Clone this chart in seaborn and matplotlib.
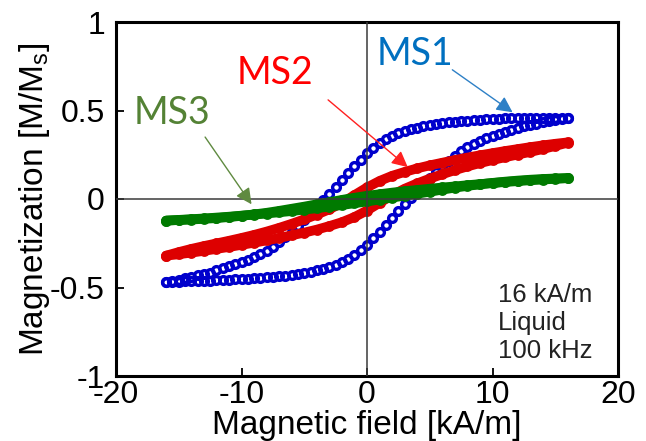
import numpy as np
import pandas as pd
import matplotlib
matplotlib.use("Agg")
import matplotlib.pyplot as plt
import seaborn as sns

# ---------------------------------------------------------------------------
# Hysteresis loops (applied field 16 kA/m, liquid, 100 kHz)
# ---------------------------------------------------------------------------
# fine field grid for MS1 (kA/m)
field_fine = [-16.0, -15.5, -15.0, -14.5, -14.0, -13.5, -13.0, -12.5, -12.0, -11.5,
              -11.0, -10.5, -10.0, -9.5, -9.0, -8.5, -8.0, -7.5, -7.0, -6.5,
              -6.0, -5.5, -5.0, -4.5, -4.0, -3.5, -3.0, -2.5, -2.0, -1.5,
              -1.0, -0.5, 0.0, 0.5, 1.0, 1.5, 2.0, 2.5, 3.0, 3.5,
              4.0, 4.5, 5.0, 5.5, 6.0, 6.5, 7.0, 7.5, 8.0, 8.5,
              9.0, 9.5, 10.0, 10.5, 11.0, 11.5, 12.0, 12.5, 13.0, 13.5,
              14.0, 14.5, 15.0, 15.5, 16.0]

# MS1, rising-field branch
ms1_up = [-0.470, -0.468, -0.467, -0.466, -0.464, -0.463, -0.462, -0.461, -0.460, -0.458,
          -0.456, -0.454, -0.452, -0.450, -0.448, -0.446, -0.443, -0.440, -0.437, -0.433,
          -0.429, -0.424, -0.418, -0.411, -0.403, -0.394, -0.384, -0.372, -0.358, -0.340,
          -0.318, -0.290, -0.258, -0.222, -0.185, -0.147, -0.108, -0.070, -0.031, 0.008,
          0.046, 0.083, 0.118, 0.152, 0.187, 0.217, 0.244, 0.269, 0.291, 0.311,
          0.328, 0.343, 0.357, 0.370, 0.381, 0.392, 0.401, 0.410, 0.418, 0.425,
          0.435, 0.441, 0.447, 0.452, 0.457]

# MS1, falling-field branch (same field grid)
ms1_down = [-0.468, -0.462, -0.455, -0.448, -0.440, -0.432, -0.425, -0.418, -0.401, -0.392,
            -0.381, -0.370, -0.357, -0.343, -0.328, -0.311, -0.291, -0.269, -0.244, -0.217,
            -0.187, -0.152, -0.118, -0.083, -0.046, -0.008, 0.031, 0.070, 0.108, 0.147,
            0.185, 0.222, 0.258, 0.290, 0.318, 0.340, 0.358, 0.372, 0.384, 0.394,
            0.403, 0.411, 0.418, 0.424, 0.429, 0.433, 0.437, 0.440, 0.443, 0.446,
            0.448, 0.450, 0.452, 0.454, 0.456, 0.457, 0.458, 0.459, 0.459, 0.459,
            0.459, 0.459, 0.459, 0.458, 0.457]

# coarse field grid for MS2 / MS3 (kA/m)
field_coarse = [-16, -15, -14, -13, -12, -11, -10, -9, -8, -7, -6, -5, -4, -3, -2, -1, 0,
                1, 2, 3, 4, 5, 6, 7, 8, 9, 10, 11, 12, 13, 14, 15, 16]

ms2_up = [-0.320, -0.312, -0.303, -0.293, -0.282, -0.271, -0.259, -0.247, -0.234, -0.220,
          -0.205, -0.190, -0.173, -0.153, -0.131, -0.102, -0.065, -0.022, 0.022, 0.058,
          0.088, 0.115, 0.140, 0.163, 0.184, 0.203, 0.220, 0.236, 0.251, 0.266,
          0.282, 0.300, 0.318]
ms2_down = [-0.320, -0.300, -0.282, -0.266, -0.251, -0.236, -0.220, -0.203, -0.184, -0.163,
            -0.140, -0.115, -0.088, -0.058, -0.022, 0.022, 0.065, 0.102, 0.131, 0.153,
            0.173, 0.190, 0.205, 0.220, 0.234, 0.247, 0.259, 0.271, 0.282, 0.293,
            0.303, 0.312, 0.320]

ms3_up = [-0.122, -0.118, -0.114, -0.110, -0.105, -0.100, -0.094, -0.088, -0.082, -0.075,
          -0.068, -0.060, -0.052, -0.043, -0.034, -0.024, -0.014, -0.003, 0.008, 0.019,
          0.030, 0.041, 0.053, 0.064, 0.074, 0.083, 0.091, 0.098, 0.104, 0.109,
          0.113, 0.116, 0.118]
ms3_down = [-0.122, -0.119, -0.116, -0.112, -0.108, -0.102, -0.095, -0.087, -0.078, -0.067,
            -0.055, -0.043, -0.030, -0.018, -0.005, 0.007, 0.018, 0.027, 0.036, 0.044,
            0.051, 0.058, 0.065, 0.071, 0.078, 0.084, 0.090, 0.096, 0.101, 0.106,
            0.110, 0.114, 0.118]

sample_names = ["MS1", "MS2", "MS3"]
marker_colors = {"MS1": "#0000cc", "MS2": "#dd0000", "MS3": "#007a00"}
label_colors = {"MS1": "#0070c0", "MS2": "#ff0000", "MS3": "#548235"}
arrow_colors = {"MS1": "#2e80c6", "MS2": "#ff2020", "MS3": "#5f8a40"}

x_ticks = [-20, -10, 0, 10, 20]
y_ticks = [-1, -0.5, 0, 0.5, 1]
y_ticklabels = ["-1", "-0.5", "0", "0.5", "1"]

# long-form table of all loops
rows = []
for name, field, up, down in [("MS1", field_fine, ms1_up, ms1_down),
                              ("MS2", field_coarse, ms2_up, ms2_down),
                              ("MS3", field_coarse, ms3_up, ms3_down)]:
    for h, m in zip(field, up):
        rows.append((name, "up", h, m))
    for h, m in zip(field, down):
        rows.append((name, "down", h, m))
loops = pd.DataFrame(rows, columns=["sample", "branch", "field", "magnetization"])

# ---------------------------------------------------------------------------
sns.set_theme(style="white")
plt.rcParams["font.family"] = ["Liberation Sans", "DejaVu Sans"]
plt.rcParams["mathtext.fontset"] = "custom"
plt.rcParams["mathtext.rm"] = "Liberation Sans"

fig = plt.figure(figsize=(6.46, 4.41), dpi=100)
ax = fig.add_axes([116 / 646, 1 - 376 / 441, 502 / 646, 354 / 441])

for name in ["MS1", "MS2", "MS3"]:
    c = marker_colors[name]
    for branch in ["up", "down"]:
        sub = loops[(loops["sample"] == name) & (loops["branch"] == branch)]
        if name == "MS1":
            # open circles only
            sns.lineplot(data=sub, x="field", y="magnetization", ax=ax, sort=False,
                         estimator=None, color=c, lw=0, marker="o", ms=5.6,
                         mfc="none", mec=c, mew=2.4, zorder=2)
        else:
            # densely packed circles read as a solid band
            sns.lineplot(data=sub, x="field", y="magnetization", ax=ax, sort=False,
                         estimator=None, color=c, lw=7.0, solid_capstyle="round",
                         marker="o", ms=6.0, mfc="none", mec=c, mew=1.8, zorder=2)

# zero lines
ax.axhline(0, color="#3a3a3a", lw=1.1, zorder=4)
ax.axvline(0, color="#3a3a3a", lw=1.1, zorder=4)

ax.set_xlim(-20, 20)
ax.set_ylim(-1, 1)
ax.set_xticks(x_ticks)
ax.set_xticklabels([str(t) for t in x_ticks])
ax.set_yticks(y_ticks)
ax.set_yticklabels(y_ticklabels)
ax.tick_params(axis="both", direction="in", length=6, width=1.3, colors="black",
               labelsize=23, left=True, bottom=True, top=False, right=False)
ax.tick_params(axis="y", pad=8)
ax.tick_params(axis="x", pad=3)
for side in ["left", "right", "top", "bottom"]:
    ax.spines[side].set_visible(True)
    ax.spines[side].set_color("black")
    ax.spines[side].set_linewidth(2.2)

ax.set_xlabel("Magnetic field [kA/m]", fontsize=24, color="black")
ax.set_ylabel(r"Magnetization [M/M$_\mathregular{s}$]", fontsize=24, color="black")
ax.xaxis.set_label_coords(0.5, -0.095)
ax.yaxis.set_label_coords(-0.128, 0.5)

# sample labels with arrows
label_pos = {"MS1": (3.8, 0.82), "MS2": (-7.3, 0.71), "MS3": (-15.5, 0.485)}
arrow_tail = {"MS1": (6.8, 0.73), "MS2": (-3.1, 0.56), "MS3": (-12.9, 0.35)}
arrow_head = {"MS1": (11.6, 0.49), "MS2": (3.25, 0.18), "MS3": (-9.2, -0.03)}
for name in sample_names:
    ax.text(*label_pos[name], name, color=label_colors[name], fontsize=27,
            family=["Lato", "DejaVu Sans"], ha="center", va="center", zorder=5)
    ax.annotate("", xy=arrow_head[name], xytext=arrow_tail[name],
                arrowprops=dict(arrowstyle="-|>", color=arrow_colors[name], lw=1.0,
                                mutation_scale=24, shrinkA=0, shrinkB=0),
                zorder=5)

ax.text(10.45, -0.925, "16 kA/m\nLiquid\n100 kHz", fontsize=18.5, color="#222222",
        ha="left", va="bottom", linespacing=1.2, zorder=5)

fig.savefig("out.png", dpi=100)
